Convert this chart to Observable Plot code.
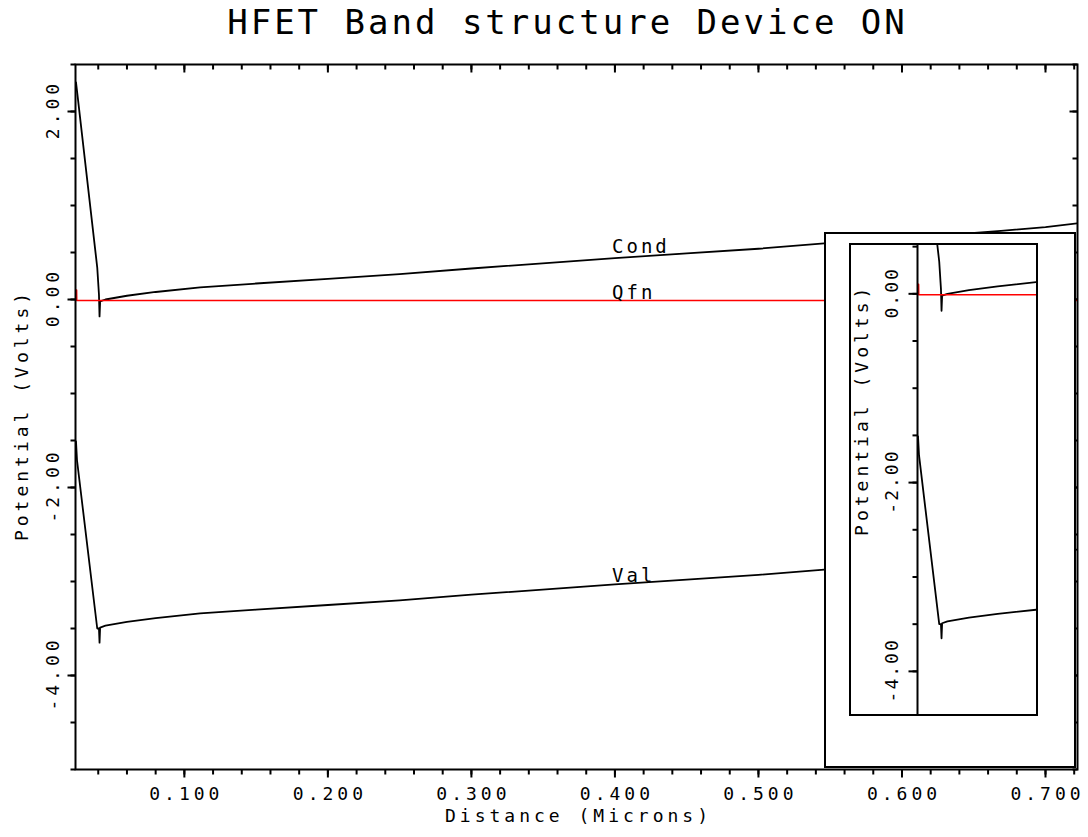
<!DOCTYPE html>
<html><head><meta charset="utf-8">
<script src="https://cdn.jsdelivr.net/npm/d3@7"></script>
<script src="https://cdn.jsdelivr.net/npm/@observablehq/plot@0.6"></script>
<style>
body{margin:0;background:#fff;}
#wrap{position:relative;width:1088px;height:837px;overflow:hidden;background:#fff;}
#main{position:absolute;left:0;top:0;}
#insetBox{position:absolute;left:824px;top:232px;width:252px;height:536px;box-sizing:border-box;border:2px solid #000;background:#fff;}
#insetFrame{position:absolute;left:849px;top:243px;width:189px;height:473px;box-sizing:border-box;border:2px solid #000;background:#fff;}
#insetFrame svg{display:block;}
.ls-title text{letter-spacing:3px;}
.ls4 text{letter-spacing:4px;}
.ls3 text{letter-spacing:3px;}
.ls2 text{letter-spacing:2px;}
</style>
</head><body>
<div id="wrap"><div id="main"></div><div id="insetBox"></div><div id="insetFrame"></div></div>
<script>
// ---- data ----
const titleText = "HFET Band structure Device ON";
const xLabel = "Distance (Microns)";
const yLabel = "Potential (Volts)";

const condX = [0.0245, 0.0258, 0.0393, 0.0405, 0.0409, 0.0413, 0.0450, 0.0600, 0.0800, 0.1110, 0.1500, 0.2000, 0.2500, 0.3000, 0.3640, 0.4000, 0.4500, 0.5000, 0.5480, 0.6000, 0.6690, 0.7000, 0.7223];
const condY = [2.31, 2.14, 0.34, 0.05, -0.18, -0.02, 0.00, 0.04, 0.08, 0.13, 0.17, 0.22, 0.27, 0.33, 0.40, 0.44, 0.49, 0.54, 0.60, 0.65, 0.73, 0.77, 0.81];

const valX = [0.0245, 0.0252, 0.0393, 0.0405, 0.0409, 0.0413, 0.0450, 0.0600, 0.0800, 0.1110, 0.1500, 0.2000, 0.2500, 0.3000, 0.3640, 0.4000, 0.4500, 0.5000, 0.5480, 0.6000, 0.6690, 0.7000, 0.7223];
const valY = [-1.51, -1.71, -3.50, -3.50, -3.65, -3.49, -3.47, -3.43, -3.39, -3.34, -3.30, -3.25, -3.20, -3.14, -3.07, -3.03, -2.98, -2.93, -2.87, -2.82, -2.74, -2.70, -2.66];

const qfnX = [0.0242, 0.0249, 0.0250, 0.7223];
const qfnY = [0.10, 0.10, -0.01, -0.01];

const curveNames = ["Cond", "Qfn", "Val"];
const curveLabelX = [0.398, 0.398, 0.398];
const curveLabelY = [0.49, 0.01, -3.01];

const xTickValues = [0.1, 0.2, 0.3, 0.4, 0.5, 0.6, 0.7];
const yTickValues = [-4, -2, 0, 2];
const insetYTickValues = [-4, -2, 0];

// ---- tables ----
const toRows = (xs, ys) => xs.map((x, i) => ({x, y: ys[i]}));
const cond = toRows(condX, condY);
const val = toRows(valX, valY);
const qfn = toRows(qfnX, qfnY);
const labels = curveNames.map((name, i) => ({name, x: curveLabelX[i], y: curveLabelY[i]}));

const font = "'DejaVu Sans Mono', monospace";

// ---- main geometry ----
const W = 1088, H = 837, mL = 75, mR = 11, mT = 64, mB = 68;
const xDom = [0.02415, 0.7223], yDom = [-5, 2.5];
const FW = W - mL - mR, FH = H - mT - mB;
const pxX = FW / (xDom[1] - xDom[0]);   // pixels per micron
const pxY = FH / (yDom[1] - yDom[0]);   // pixels per volt

const xMinor = d3.range(0.04, 0.7201, 0.02);
const yMinor = d3.range(-5, 2.501, 0.5);

// tick segments built from the tick values; lengths in pixels converted to data units
function xTicks(values, len, atY, dir) { // dir -1 = downward on screen
  return values.map(v => ({x1: v, x2: v, y1: atY, y2: atY + dir * len / pxY}));
}
function yTicks(values, len, atX, dir, kx) {
  return values.map(v => ({y1: v, y2: v, x1: atX, x2: atX + dir * len / kx}));
}
const mainTicks = [
  ...xTicks(xMinor, 5, yDom[0], -1), ...xTicks(xTickValues, 8, yDom[0], -1),
  ...xTicks(xMinor, 5, yDom[1], -1), ...xTicks(xTickValues, 8, yDom[1], -1),
  ...yTicks(yMinor, 5, xDom[0], -1, pxX), ...yTicks(yTickValues, 8, xDom[0], -1, pxX),
  ...yTicks(yMinor, 5, xDom[1], -1, pxX), ...yTicks(yTickValues, 8, xDom[1], -1, pxX)
];

const curveMarks = () => [
  Plot.line(cond, {x: "x", y: "y", stroke: "#000", strokeWidth: 1.8, clip: true}),
  Plot.line(val, {x: "x", y: "y", stroke: "#000", strokeWidth: 1.8, clip: true}),
  Plot.line(qfn, {x: "x", y: "y", stroke: "#ff0000", strokeWidth: 1.6, clip: true})
];

const main = Plot.plot({
  width: W, height: H,
  marginLeft: mL, marginRight: mR, marginTop: mT, marginBottom: mB,
  style: {fontFamily: font, fontSize: "18px", background: "#fff", color: "#000"},
  x: {domain: xDom, axis: null},
  y: {domain: yDom, axis: null},
  marks: [
    Plot.link(mainTicks, {x1: "x1", y1: "y1", x2: "x2", y2: "y2", stroke: "#000", strokeWidth: 2}),
    ...curveMarks(),
    Plot.frame({stroke: "#000", strokeWidth: 2}),
    Plot.text(xTickValues, {x: d => d, text: d => d.toFixed(3), frameAnchor: "bottom", dy: 30, dx: 2, lineAnchor: "bottom", fontSize: 18, className: "ls4"}),
    Plot.text(yTickValues, {y: d => d, text: d => d.toFixed(2), frameAnchor: "left", dx: -22, dy: -2, rotate: -90, textAnchor: "middle", lineAnchor: "middle", fontSize: 18, className: "ls4"}),
    Plot.text([xLabel], {text: d => d, frameAnchor: "bottom", dy: 52, dx: 2, lineAnchor: "bottom", fontSize: 18, className: "ls4"}),
    Plot.text([yLabel], {text: d => d, y: () => -1.25, frameAnchor: "left", dx: -53, dy: -2, rotate: -90, textAnchor: "middle", lineAnchor: "middle", fontSize: 18, className: "ls4"}),
    Plot.text([titleText], {text: d => d, frameAnchor: "top", dy: -31, dx: -9, lineAnchor: "bottom", fontSize: 34, className: "ls-title"}),
    Plot.text(labels, {x: "x", y: "y", text: "name", textAnchor: "start", lineAnchor: "bottom", fontSize: 19, className: "ls3"})
  ]
});
document.getElementById("main").appendChild(main);

// ---- inset (same scales, zoomed window) ----
const iW = 185, iH = 469, iL = 66;
const ixDom = [0.02415, 0.10708], iyDom = [-4.457, 0.512];
const ipxX = (iW - iL) / (ixDom[1] - ixDom[0]);
const insetMinor = d3.range(-4, 0.501, 0.5);
const insetTicks = [
  ...yTicks(insetMinor, 5, ixDom[0], -1, ipxX), ...yTicks(insetYTickValues, 9, ixDom[0], -1, ipxX)
];
const inset = Plot.plot({
  width: iW, height: iH,
  marginLeft: iL, marginRight: 0, marginTop: 0, marginBottom: 0,
  style: {fontFamily: font, fontSize: "18px", background: "#fff", color: "#000", overflow: "hidden"},
  x: {domain: ixDom, axis: null},
  y: {domain: iyDom, axis: null},
  marks: [
    Plot.link(insetTicks, {x1: "x1", y1: "y1", x2: "x2", y2: "y2", stroke: "#000", strokeWidth: 2}),
    ...curveMarks(),
    Plot.ruleX([ixDom[0]], {stroke: "#000", strokeWidth: 2}),
    Plot.text(insetYTickValues, {y: d => d, text: d => d.toFixed(2), frameAnchor: "left", dx: -25, dy: -1, rotate: -90, textAnchor: "middle", lineAnchor: "middle", fontSize: 18, className: "ls2"}),
    Plot.text([yLabel], {text: d => d, y: () => -1.25, frameAnchor: "left", dx: -55, dy: -2, rotate: -90, textAnchor: "middle", lineAnchor: "middle", fontSize: 18, className: "ls4"})
  ]
});
document.getElementById("insetFrame").appendChild(inset);
</script>
</body></html>
